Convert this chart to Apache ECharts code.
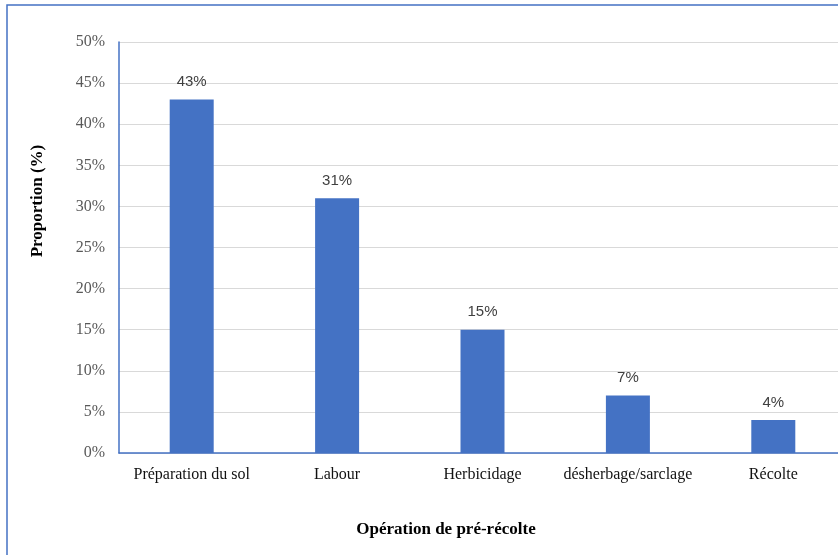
<!DOCTYPE html>
<html>
<head>
<meta charset="utf-8">
<script src="https://cdn.jsdelivr.net/npm/echarts@6/dist/echarts.min.js"></script>
<style>
html,body{margin:0;padding:0;background:#fff;overflow:hidden;width:838px;height:555px;}
#chart{width:846px;height:555px;}
</style>
</head>
<body>
<div id="chart"></div>
<script>
var categories = ['Préparation du sol', 'Labour', 'Herbicidage', 'désherbage/sarclage', 'Récolte'];
var values = [43, 31, 15, 7, 4];
var yTitle = 'Proportion (%)';
var xTitle = 'Opération de pré-récolte';

var chart = echarts.init(document.getElementById('chart'), null, {renderer: 'canvas'});
chart.setOption({
  animation: false,
  backgroundColor: '#ffffff',
  graphic: [
    {type: 'rect', x: 7, y: 5, shape: {x: 0, y: 0, width: 900, height: 600},
     style: {fill: 'none', stroke: '#4472C4', lineWidth: 1.5}, silent: true},
    {type: 'text', x: 446, y: 530, style: {text: xTitle, font: 'bold 17px "Liberation Serif", serif', fill: '#000', textAlign: 'center', textVerticalAlign: 'middle'}},
    {type: 'text', x: 38, y: 201, rotation: Math.PI / 2, style: {text: yTitle, font: 'bold 17px "Liberation Serif", serif', fill: '#000', textAlign: 'center', textVerticalAlign: 'middle'}}
  ],
  grid: {left: 119, top: 42, right: 0, height: 411, containLabel: false},
  xAxis: {
    type: 'category',
    data: categories,
    axisLine: {show: true, lineStyle: {color: '#4472C4', width: 1.5}},
    axisTick: {show: false},
    axisLabel: {color: '#111', fontFamily: '"Liberation Serif", serif', fontSize: 16, margin: 14, interval: 0}
  },
  yAxis: {
    type: 'value',
    min: 0, max: 50, interval: 5,
    axisLine: {show: true, lineStyle: {color: '#4472C4', width: 1.5}},
    axisTick: {show: false},
    splitLine: {lineStyle: {color: '#d9d9d9', width: 1.2}},
    axisLabel: {color: '#595959', fontFamily: '"Liberation Serif", serif', fontSize: 16, margin: 14, formatter: '{value}%'}
  },
  series: [{
    type: 'bar',
    data: values,
    barWidth: 44,
    itemStyle: {color: '#4472C4'},
    label: {show: true, position: 'top', distance: 10, formatter: '{c}%', color: '#404040', fontFamily: '"Liberation Sans", sans-serif', fontSize: 15}
  }]
});
</script>
</body>
</html>
